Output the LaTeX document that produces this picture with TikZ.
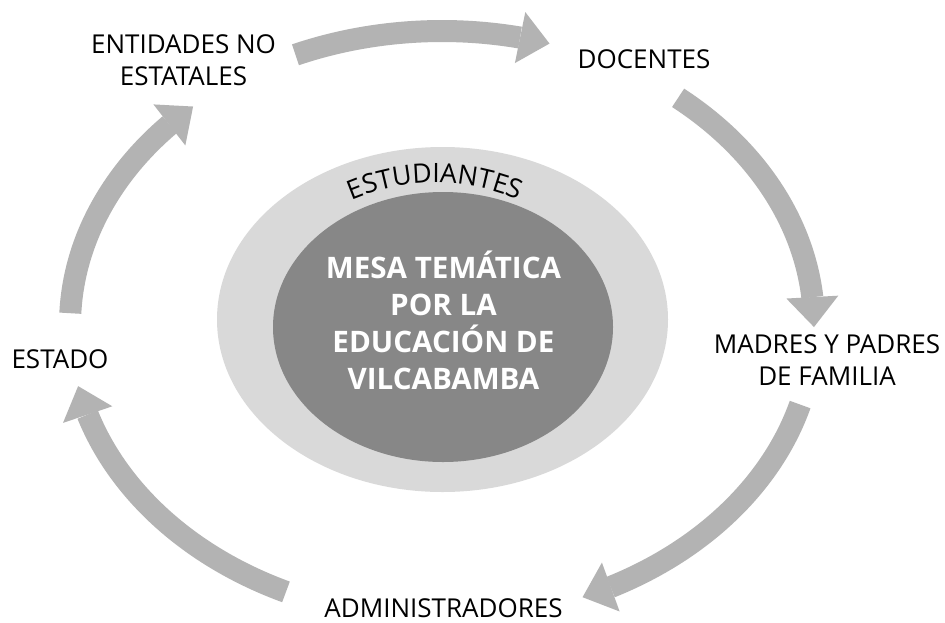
\documentclass[tikz,border=0pt]{standalone}
\usepackage{fontspec}
\setmainfont{Open Sans}
\usetikzlibrary{arrows.meta,bending,decorations.text,shapes.geometric}
\definecolor{arrowgray}{HTML}{B3B3B3}
\definecolor{ringgray}{HTML}{D9D9D9}
\definecolor{coregray}{HTML}{878787}
\begin{document}
\begin{tikzpicture}[x=0.75pt,y=-0.75pt,
  cyclearrow/.style={draw=arrowgray, line width=16.5pt,
    -{Triangle[width=39pt,length=22.5pt,line width=0pt]}},
  rolelabel/.style={font=\fontsize{19.5}{24}\selectfont, align=center, inner sep=0pt, text=black},
  coretext/.style={font=\fontsize{22.2}{27.75}\selectfont\bfseries, align=center, text=white, inner sep=0pt},
  blob/.style={ellipse, inner sep=0pt, draw=none}]
\useasboundingbox (0,0) rectangle (945,622);
\fill[white] (0,0) rectangle (945,622);
\coordinate (cyc) at (442,325);

% central ellipses
\node[blob, fill=ringgray, minimum width=338.25pt, minimum height=258.75pt] (ring) at (442.5,319.5) {};
\node[blob, fill=coregray, minimum width=255pt, minimum height=202.5pt] (core) at (443,327) {};
\node[coretext, anchor=base] (mesa) at (443.5,389) {MESA TEMÁTICA\\POR LA\\EDUCACIÓN DE\\VILCABAMBA};

% curved label
\coordinate (arcc) at (435,395);
\path[decorate, decoration={text along path, text align=center,
  text={|\fontsize{20}{24}\selectfont|ESTUDIANTES}}]
  ([shift={(230:212)}]arcc) arc[start angle=230, end angle=310, radius=212];

% labels
\node[rolelabel, anchor=base] (ent) at (183.5,85) {ENTIDADES NO\\ESTATALES};
\node[rolelabel, anchor=base] (doc) at (644,68) {DOCENTES};
\node[rolelabel, anchor=base] (mad) at (827,385) {MADRES Y PADRES\\DE FAMILIA};
\node[rolelabel, anchor=base] (adm) at (443.5,617) {ADMINISTRADORES};
\node[rolelabel, anchor=base] (est) at (60,368) {ESTADO};

% cycle arrows
\draw[cyclearrow] ([shift={(-113.2:372 and 294)}]cyc) arc[start angle=-113.2, end angle=-73.2, x radius=372, y radius=294];
\draw[cyclearrow] ([shift={(-50.6:372 and 294)}]cyc) arc[start angle=-50.6, end angle=0.4, x radius=372, y radius=294];
\draw[cyclearrow] ([shift={(15.7:372 and 294)}]cyc) arc[start angle=15.7, end angle=67.8, x radius=372, y radius=294];
\draw[cyclearrow] ([shift={(114.8:372 and 294)}]cyc) arc[start angle=114.8, end angle=168, x radius=372, y radius=294];
\draw[cyclearrow] ([shift={(182.3:372 and 294)}]cyc) arc[start angle=182.3, end angle=228, x radius=372, y radius=294];
\end{tikzpicture}
\end{document}
